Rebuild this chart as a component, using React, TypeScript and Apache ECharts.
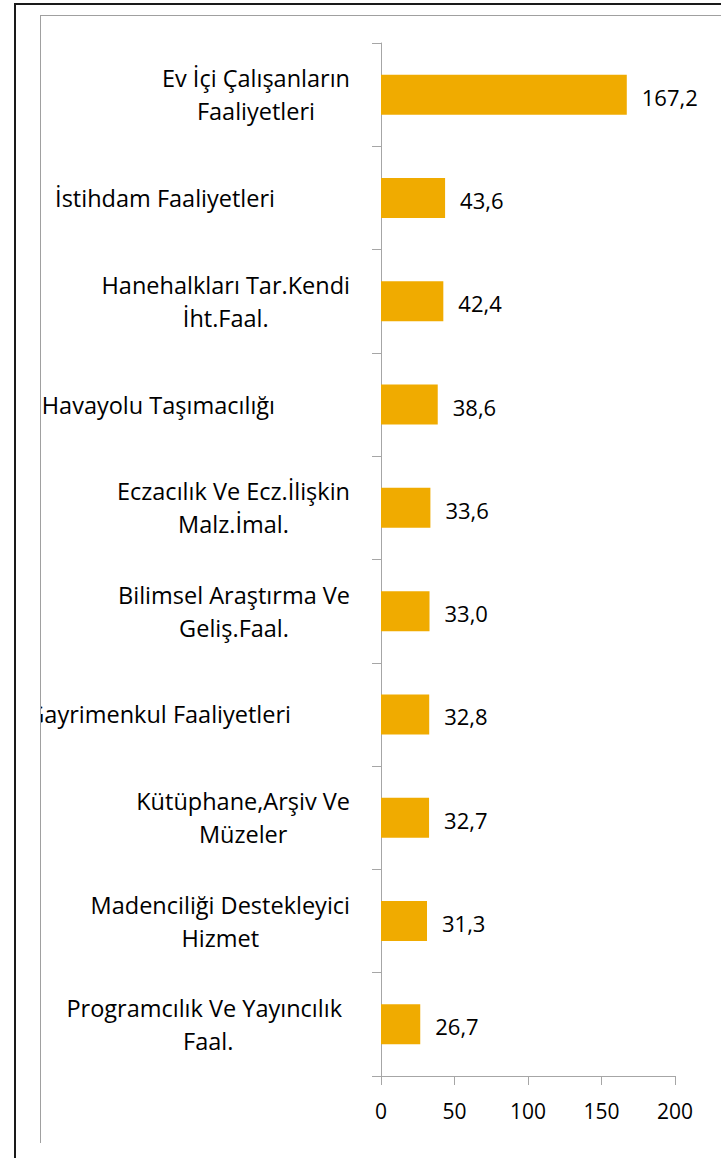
import React, { useEffect, useRef } from "react";
import * as echarts from "echarts";

const categories: string[] = [
  "Ev İçi Çalışanların\nFaaliyetleri",
  "İstihdam Faaliyetleri",
  "Hanehalkları Tar.Kendi\nİht.Faal.",
  "Havayolu Taşımacılığı",
  "Eczacılık Ve Ecz.İlişkin\nMalz.İmal.",
  "Bilimsel Araştırma Ve\nGeliş.Faal.",
  "Gayrimenkul Faaliyetleri",
  "Kütüphane,Arşiv Ve\nMüzeler",
  "Madenciliği Destekleyici\nHizmet",
  "Programcılık Ve Yayıncılık\nFaal.",
];

const values: number[] = [167.2, 43.6, 42.4, 38.6, 33.6, 33.0, 32.8, 32.7, 31.3, 26.7];

const xTicks = { min: 0, max: 200, interval: 50 };

// extra right padding for some labels (style only)
const labelRightPad: Record<string, number> = {
  "İstihdam Faaliyetleri": 75,
  "Havayolu Taşımacılığı": 75,
  "Gayrimenkul Faaliyetleri": 59,
  "Programcılık Ve Yayıncılık\nFaal.": 8,
};

const FONT = "'Open Sans', Lato, sans-serif";
const GRAY = "#a6a6a6";
const CAT_SIZE = 23.5;

export default function App() {
  const ref = useRef<HTMLDivElement>(null);

  useEffect(() => {
    if (!ref.current) return;
    const chart = echarts.init(ref.current, null, { renderer: "svg" });
    const base = { fontSize: CAT_SIZE, lineHeight: 33, fontFamily: FONT, color: "#000" };
    const rich: Record<string, any> = {
      c: { ...base, align: "center" },
    };
    const padKeys = Object.keys(labelRightPad);
    padKeys.forEach((k, i) => {
      rich["p" + i] = { ...base, align: "center", padding: [0, labelRightPad[k], 0, 0] };
    });
    chart.setOption({
      animation: false,
      backgroundColor: "#fff",
      grid: {
        left: 340,
        right: 46,
        top: 27,
        bottom: 66,
        containLabel: false,
        outerBoundsMode: "none",
      },
      xAxis: {
        type: "value",
        min: xTicks.min,
        max: xTicks.max,
        interval: xTicks.interval,
        axisLine: { show: true, lineStyle: { color: GRAY, width: 1 } },
        axisTick: { show: true, length: 9, lineStyle: { color: GRAY } },
        splitLine: { show: false },
        axisLabel: { color: "#000", fontSize: 21, fontFamily: FONT, margin: 24 },
      },
      yAxis: {
        type: "category",
        inverse: true,
        data: categories,
        axisLine: { show: true, lineStyle: { color: GRAY, width: 1 } },
        axisTick: { show: true, length: 9, lineStyle: { color: GRAY } },
        axisLabel: {
          margin: 31,
          align: "right",
          interval: 0,
          fontFamily: FONT,
          fontSize: CAT_SIZE,
          color: "#000",
          formatter: (v: string) => {
            const idx = padKeys.indexOf(v);
            const lines = v.split("\n");
            if (idx >= 0) {
              return lines.map((l, j) => (j === 0 ? `{p${idx}|${l}}` : `{c|${l}}`)).join("\n");
            }
            return lines.map((l) => `{c|${l}}`).join("\n");
          },
          rich,
        },
      },
      series: [
        {
          type: "bar",
          data: values,
          barWidth: 40,
          itemStyle: { color: "#F0AB00" },
          label: {
            show: true,
            position: "right",
            distance: 15,
            color: "#000",
            fontSize: 22,
            fontFamily: FONT,
            offset: [0, 2],
            formatter: (p: any) => Number(p.value).toFixed(1).replace(".", ","),
          },
        },
      ],
    });
    return () => chart.dispose();
  }, []);

  return (
    <div style={{ position: "absolute", left: 0, top: 0, width: 721, height: 1158, overflow: "hidden", background: "#fff" }}>
      <div
        style={{
          position: "absolute",
          left: 14,
          top: 3,
          width: 800,
          height: 1300,
          borderTop: "2px solid #1a1a1a",
          borderLeft: "2px solid #1a1a1a",
        }}
      />
      <div
        style={{
          position: "absolute",
          left: 40,
          top: 15,
          width: 760,
          height: 1127,
          borderTop: "1px solid #a0a0a0",
          borderLeft: "1px solid #a0a0a0",
        }}
      />
      <div ref={ref} style={{ position: "absolute", left: 41, top: 16, width: 680, height: 1126 }} />
    </div>
  );
}
